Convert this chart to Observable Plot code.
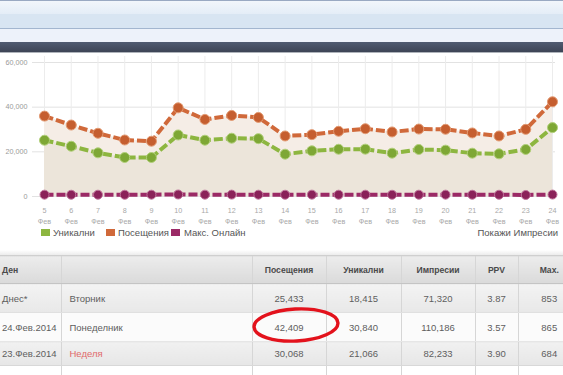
<!DOCTYPE html>
<html>
<head>
<meta charset="utf-8">
<script src="https://cdn.jsdelivr.net/npm/d3@7"></script>
<script src="https://cdn.jsdelivr.net/npm/@observablehq/plot@0.6"></script>
<style>
  html, body { margin:0; padding:0; }
  body { width:563px; height:375px; overflow:hidden; background:#fff; position:relative;
         font-family:"Liberation Sans", Arial, sans-serif; color:#555; }
  .stripe { position:absolute; left:0; width:563px; }
  #chart { position:absolute; left:0; top:53px; }
  #legend { position:absolute; left:0; top:226px; width:563px; height:14px; font-size:9.5px; color:#555; }
  #legend .sw { position:absolute; top:3px; width:9px; height:7px; }
  #legend .lb { position:absolute; top:0px; line-height:14px; white-space:nowrap; }
  #tablewrap { position:absolute; left:0; top:250px; width:563px; height:125px; overflow:hidden; }
  table { border-collapse:collapse; width:580px; table-layout:fixed; font-size:9.5px; color:#5e5e5e; }
  td, th { border-left:1px solid #d6d6d6; padding:0; text-align:center; white-space:nowrap; overflow:hidden; }
  td:first-child, th:first-child { border-left:none; text-align:left; padding-left:2px; }
  td:nth-child(2), th:nth-child(2) { text-align:left; padding-left:8px; }
  th { font-weight:bold; font-size:8.6px; color:#4a4a4a; height:27px;
       background:linear-gradient(#ececec,#dadada); border-top:1px solid #cfcfcf; border-bottom:1px solid #c4c4c4; }
  tr.r1 td { height:28px; background:linear-gradient(#f3f3f3,#e8e8e8); border-bottom:1px solid #e0e0e0; }
  tr.r2 td { height:28px; background:#fbfbfb; border-bottom:1px solid #e6e6e6; }
  tr.r3 td { height:23px; background:linear-gradient(#f1f1f1,#e6e6e6); border-bottom:1px solid #d8d8d8; }
  tr.r4 td { height:20px; background:#fff; }
  .sun { color:#e06a6a; }
  #mark { position:absolute; left:0; top:0; pointer-events:none; }
</style>
</head>
<body>
<div class="stripe" style="top:0;height:1px;background:#9aa9c2"></div>
<div class="stripe" style="top:1px;height:13px;background:linear-gradient(#f2f6fb,#e4edf7)"></div>
<div class="stripe" style="top:14px;height:14px;background:#d8e5f2"></div>
<div class="stripe" style="top:28px;height:1px;background:#a3b6cf"></div>
<div class="stripe" style="top:29px;height:13px;background:#edf2fa"></div>
<div class="stripe" style="top:42px;height:10px;background:linear-gradient(#505b71,#3d4455)"></div>
<div class="stripe" style="top:52px;height:1px;background:#aeb3ba"></div>
<div id="chart"></div>
<div id="legend"></div>
<div id="tablewrap"></div>
<svg id="mark" width="563" height="375"><ellipse cx="296" cy="325" rx="42" ry="16" fill="none" stroke="#e3121c" stroke-width="3.4" transform="rotate(-3 296 325)"/></svg>
<script>
// ---- chart data ----
const days = [5, 6, 7, 8, 9, 10, 11, 12, 13, 14, 15, 16, 17, 18, 19, 20, 21, 22, 23, 24];
const monthLabel = "Фев";
const visits = [36000, 32000, 28300, 25300, 24750, 39700, 34500, 36300, 35400, 27100, 27700, 29200, 30350, 28900, 30200, 30100, 28450, 27100, 30068, 42409];
const uniques = [25200, 22500, 19550, 17450, 17450, 27550, 25200, 26100, 25900, 18950, 20450, 21150, 21200, 19400, 21050, 20750, 19400, 19100, 21066, 30840];
const maxOnline = [820, 790, 800, 780, 810, 900, 820, 840, 810, 790, 830, 800, 810, 780, 800, 820, 790, 780, 684, 865];
const yTicks = [0, 20000, 40000, 60000];
const seriesNames = ["Уникални", "Посещения", "Макс. Онлайн"];
const seriesColors = ["#8db640", "#d0693a", "#9b2a66"];
const dotColors = ["#7ea735", "#c55e2f", "#8a2259"];
const showImpressions = "Покажи Импресии";

// ---- table data ----
const tableHeaders = ["Ден", "", "Посещения", "Уникални", "Импресии", "PPV", "Max."];
const tableDates = ["Днес*", "24.Фев.2014", "23.Фев.2014", ""];
const tableWeekdays = ["Вторник", "Понеделник", "Неделя", ""];
const tableVisits = ["25,433", "42,409", "30,068", ""];
const tableUniques = ["18,415", "30,840", "21,066", ""];
const tableImpressions = ["71,320", "110,186", "82,233", ""];
const tablePPV = ["3.87", "3.57", "3.90", ""];
const tableMax = ["853", "865", "684", ""];

const data = days.map((d, i) => ({day: d, visits: visits[i], uniques: uniques[i], online: maxOnline[i]}));

const lineOpts = {strokeWidth: 4, strokeDasharray: "9,3", strokeLinecap: "butt", strokeLinejoin: "round", curve: "linear"};
const chart = Plot.plot({
  width: 563, height: 175,
  marginTop: 3, marginBottom: 32, marginLeft: 32, marginRight: 8,
  x: {domain: [5, 24], insetLeft: 12, insetRight: 3},
  y: {domain: [0, 60000], insetTop: 6},
  style: {background: "transparent", fontFamily: "Liberation Sans, Arial, sans-serif", overflow: "visible"},
  marks: [
    Plot.gridY(yTicks, {stroke: "#e2e2e2", strokeOpacity: 1}),
    Plot.gridX(days, {stroke: "#ececec", strokeOpacity: 1}),
    Plot.areaY(data, {x: "day", y: "visits", fill: "#f5ede6"}),
    Plot.areaY(data, {x: "day", y: "uniques", fill: "#ece5da"}),
    Plot.lineY(data, {x: "day", y: "visits", stroke: seriesColors[1], ...lineOpts}),
    Plot.lineY(data, {x: "day", y: "uniques", stroke: seriesColors[0], ...lineOpts}),
    Plot.lineY(data, {x: "day", y: "online", stroke: seriesColors[2], ...lineOpts}),
    Plot.dot(data, {x: "day", y: "visits", r: 5, fill: dotColors[1], stroke: "#e39a72", strokeWidth: 1}),
    Plot.dot(data, {x: "day", y: "uniques", r: 5, fill: dotColors[0], stroke: "#b2d07a", strokeWidth: 1}),
    Plot.dot(data, {x: "day", y: "online", r: 4.5, fill: dotColors[2], stroke: "#c0769c", strokeWidth: 1}),
    Plot.axisY(yTicks, {tickSize: 0, tickPadding: 5, tickFormat: d3.format(","), fontSize: 7.2, fill: "#9a9a9a", label: null}),
    Plot.axisX(days, {tickSize: 0, tickPadding: 9, tickFormat: d => `${d}\n${monthLabel}`, fontSize: 7.2, lineHeight: 1.5, fill: "#a8a8a8", label: null})
  ]
});
document.getElementById("chart").appendChild(chart);

// legend
const legend = document.getElementById("legend");
const swX = [41, 106, 171];
const lbX = [53, 118, 184];
seriesNames.forEach((n, i) => {
  const s = document.createElement("div");
  s.className = "sw"; s.style.left = swX[i] + "px"; s.style.background = seriesColors[i];
  legend.appendChild(s);
  const l = document.createElement("div");
  l.className = "lb"; l.style.left = lbX[i] + "px"; l.textContent = n;
  legend.appendChild(l);
});
const right = document.createElement("div");
right.className = "lb"; right.style.right = "5px"; right.textContent = showImpressions;
legend.appendChild(right);

// table
const widths = [61, 191, 74, 75, 74, 43, 62];
let html = "<table><colgroup>" + widths.map(w => `<col style="width:${w}px">`).join("") + "</colgroup>";
html += "<tr>" + tableHeaders.map(h => `<th>${h}</th>`).join("") + "</tr>";
tableDates.forEach((d, i) => {
  const wd = i === 2 ? `<span class="sun">${tableWeekdays[i]}</span>` : tableWeekdays[i];
  html += `<tr class="r${i + 1}"><td>${d}</td><td>${wd}</td><td>${tableVisits[i]}</td><td>${tableUniques[i]}</td><td>${tableImpressions[i]}</td><td>${tablePPV[i]}</td><td>${tableMax[i]}</td></tr>`;
});
html += "</table>";
const tw = document.getElementById("tablewrap");
tw.innerHTML = '<div style="height:5px;background:linear-gradient(#fff,#ececec)"></div>' + html;
</script>
</body>
</html>
